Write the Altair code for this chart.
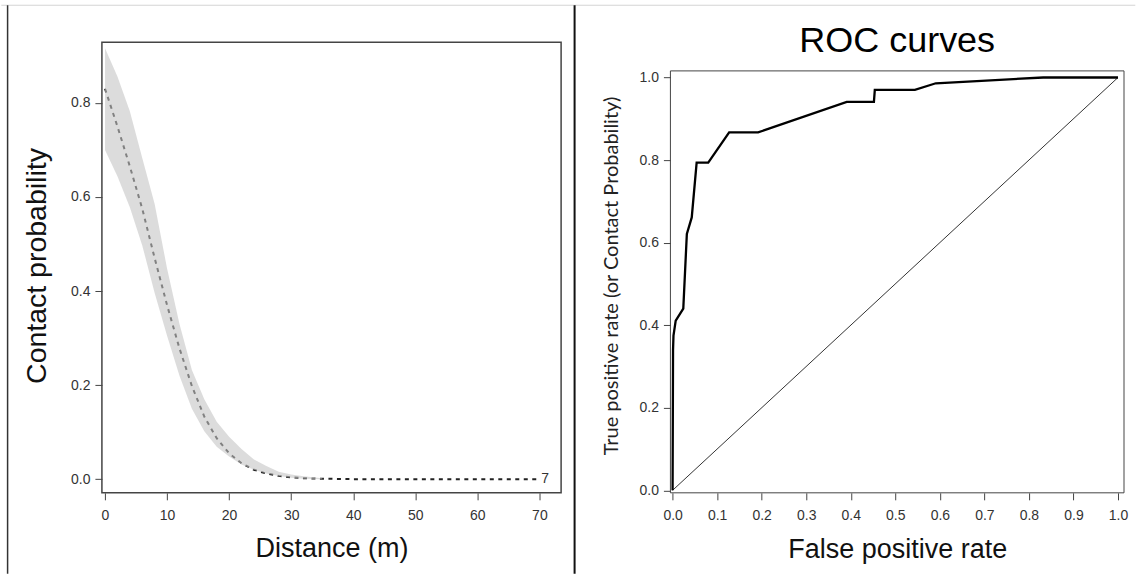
import altair as alt
import pandas as pd

# ---------------- data: left panel (contact probability vs distance) ----------------
dist = [0, 2, 4, 6, 8, 10, 12, 14, 16, 18, 20, 22, 24, 26, 28, 30, 32, 35, 40, 45, 50, 55, 60, 65, 70]
mean_prob = [0.83, 0.75, 0.665, 0.575, 0.47, 0.37, 0.278, 0.198, 0.133, 0.087, 0.055, 0.034,
             0.02, 0.012, 0.007, 0.004, 0.002, 0.001, 0, 0, 0, 0, 0, 0, 0]
band_dist = [0, 2, 4, 6, 8, 10, 12, 14, 16, 18, 20, 22, 24, 26, 28, 30, 32, 35]
band_upper = [0.916, 0.856, 0.782, 0.683, 0.585, 0.448, 0.33, 0.232, 0.17, 0.122, 0.09, 0.064,
              0.042, 0.028, 0.016, 0.010, 0.006, 0.002]
band_lower = [0.70, 0.644, 0.578, 0.497, 0.396, 0.305, 0.22, 0.15, 0.102, 0.069, 0.048, 0.031,
              0.02, 0.012, 0.007, 0.003, 0.001, 0.0]
end_label = ["7"]
end_label_x = [70.3]
end_label_y = [0.0]

# ---------------- data: right panel (ROC) ----------------
roc_fpr = [0.0, 0.001, 0.002, 0.007, 0.024, 0.032, 0.043, 0.054, 0.080, 0.127, 0.192,
           0.391, 0.452, 0.454, 0.544, 0.591, 0.832, 1.0]
roc_tpr = [0.0, 0.34, 0.375, 0.411, 0.44, 0.621, 0.661, 0.794, 0.794, 0.867, 0.867,
           0.941, 0.941, 0.970, 0.970, 0.986, 1.0, 1.0]
diag_fpr = [0.0, 1.0]
diag_tpr = [0.0, 1.0]
roc_title = ["ROC curves"]

# ---------------- ticks ----------------
left_x_ticks = [0, 10, 20, 30, 40, 50, 60, 70]
left_y_ticks = [0.0, 0.2, 0.4, 0.6, 0.8]
right_x_ticks = [0.0, 0.1, 0.2, 0.3, 0.4, 0.5, 0.6, 0.7, 0.8, 0.9, 1.0]
right_y_ticks = [0.0, 0.2, 0.4, 0.6, 0.8, 1.0]

# ---------------- layout constants ----------------
LW, LH = 459.6, 451
RW, RH = 454, 451
RTOP = 28.7
TICK_FONT = "Liberation Sans"
TITLE_FONT = "Liberation Sans"

mean_df = pd.DataFrame({"d": dist, "p": mean_prob})
band_df = pd.DataFrame({"d": band_dist, "hi": band_upper, "lo": band_lower})
lab_df = pd.DataFrame({"d": end_label_x, "p": end_label_y, "t": end_label})
roc_df = pd.DataFrame({"f": roc_fpr, "t": roc_tpr, "i": list(range(len(roc_fpr)))})
diag_df = pd.DataFrame({"f": diag_fpr, "t": diag_tpr})
one = pd.DataFrame({"a": [0]})
title_df = pd.DataFrame({"t": roc_title})

lx_scale = alt.Scale(domain=[-0.5, 73.5], nice=False, zero=False)
ly_scale = alt.Scale(domain=[-0.029, 0.929], nice=False, zero=False)

lx_axis = alt.Axis(values=left_x_ticks, format="d", title="Distance (m)",
                   titleBaseline="alphabetic", titleY=64, labelPadding=9)
ly_axis = alt.Axis(values=left_y_ticks, format=".1f", title="Contact probability",
                   titleFontSize=28.5,
                   titleBaseline="alphabetic", titleX=-56.2, titleY=223.5, titleAngle=-90,
                   labelPadding=5)

mean_line = alt.Chart(mean_df).mark_line(
    color="#222222", strokeWidth=2, strokeDash=[4, 4.5]
).encode(
    x=alt.X("d:Q", scale=lx_scale, axis=lx_axis),
    y=alt.Y("p:Q", scale=ly_scale, axis=ly_axis),
)

band = alt.Chart(band_df).mark_area(color="#c4c4c4", opacity=0.59).encode(
    x=alt.X("d:Q", scale=lx_scale, axis=lx_axis),
    y=alt.Y("hi:Q", scale=ly_scale, axis=ly_axis),
    y2="lo:Q",
)

end_text = alt.Chart(lab_df).mark_text(
    align="left", baseline="middle", font=TICK_FONT, fontSize=14, color="#333333"
).encode(
    x=alt.X("d:Q", scale=lx_scale, axis=lx_axis),
    y=alt.Y("p:Q", scale=ly_scale, axis=ly_axis),
    text="t:N",
)

left_frame = alt.Chart(one).mark_rect(filled=False, stroke="#444444", strokeWidth=1.5).encode(
    x=alt.value(0), x2=alt.value(LW), y=alt.value(0), y2=alt.value(LH)
)

top_line = alt.Chart(one).mark_rule(color="#d4d4d4", strokeWidth=1).encode(
    x=alt.value(-100.7), x2=alt.value(1136 - 101.7), y=alt.value(-37)
)
left_border = alt.Chart(one).mark_rule(color="#333333", strokeWidth=1.5).encode(
    x=alt.value(-94.4), y=alt.value(-37), y2=alt.value(532)
)
divider = alt.Chart(one).mark_rule(color="#111111", strokeWidth=2).encode(
    x=alt.value(473.1), y=alt.value(-37), y2=alt.value(532)
)

left = alt.layer(mean_line, band, end_text, left_frame, top_line, left_border, divider).properties(
    width=LW, height=LH
)

rx_scale = alt.Scale(domain=[-0.0049, 1.0135], nice=False, zero=False)
ry_scale = alt.Scale(domain=[-0.006, 1.016], range=[RH, RTOP], nice=False, zero=False)

rx_axis = alt.Axis(values=right_x_ticks, format=".1f", title="False positive rate",
                   titleBaseline="alphabetic", titleY=64.3, labelPadding=9)
ry_axis = alt.Axis(values=right_y_ticks, format=".1f",
                   title="True positive rate (or Contact Probability)",
                   titleFont="Lato", titleFontSize=20, titleColor="#222222",
                   titleBaseline="alphabetic", titleX=-52.5, titleY=233.5, titleAngle=-90,
                   labelPadding=5)

diag = alt.Chart(diag_df).mark_line(color="#333333", strokeWidth=1).encode(
    x=alt.X("f:Q", scale=rx_scale, axis=rx_axis),
    y=alt.Y("t:Q", scale=ry_scale, axis=ry_axis),
)
roc = alt.Chart(roc_df).mark_line(color="#000000", strokeWidth=2.3).encode(
    x=alt.X("f:Q", scale=rx_scale, axis=rx_axis),
    y=alt.Y("t:Q", scale=ry_scale, axis=ry_axis),
    order="i:Q",
)
right_frame = alt.Chart(one).mark_rect(filled=False, stroke="#444444", strokeWidth=1).encode(
    x=alt.value(0), x2=alt.value(RW), y=alt.value(RTOP), y2=alt.value(RH)
)
right_title = alt.Chart(title_df).mark_text(
    font=TITLE_FONT, fontSize=36, color="#000000", align="center", baseline="alphabetic"
).encode(x=alt.value(RW / 2), y=alt.value(9.7), text="t:N")

right = alt.layer(diag, roc, right_frame, right_title).properties(width=RW, height=RH)

chart = alt.hconcat(left, right, spacing=109, bounds="flush").properties(
    padding={"left": 0, "top": 4, "right": 0, "bottom": 0}
).configure_view(stroke=None).configure_axis(
    domain=False, grid=False,
    labelFont=TICK_FONT, labelFontSize=14, labelColor="#333333",
    tickColor="#444444", tickSize=7, tickWidth=1,
    titleFont=TITLE_FONT, titleFontSize=27, titleFontWeight="normal", titleColor="#111111",
)

chart.save("out.html", embed_options={"renderer": "svg", "actions": False})
